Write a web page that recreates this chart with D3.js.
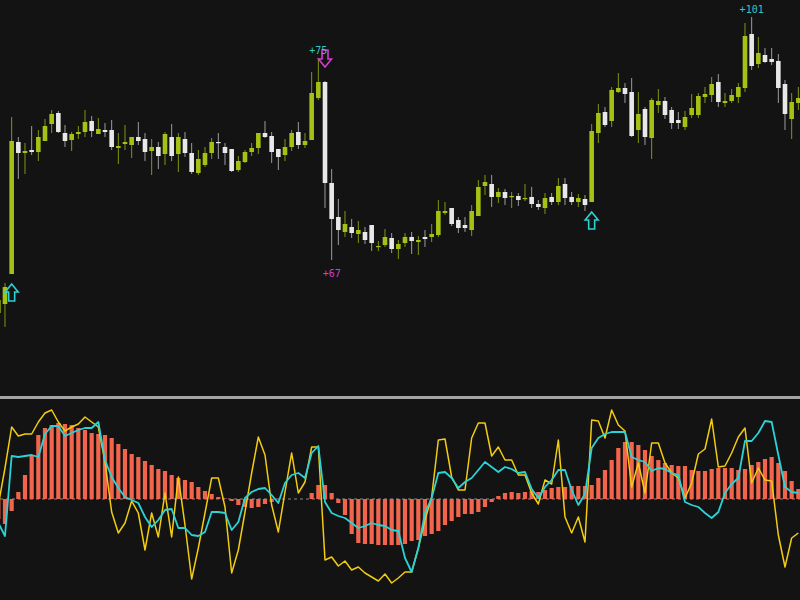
<!DOCTYPE html>
<html><head><meta charset="utf-8">
<script src="https://cdn.jsdelivr.net/npm/d3@7"></script>
<style>html,body{margin:0;padding:0;background:#131313;}svg{display:block;}</style>
</head><body>
<svg id="chart" width="800" height="600"></svg>
<script>
// bar index runs from -1 (partially off-screen) to 119
const firstIndex = -1;
const open = [
 87,96,126,258,247,250,248,259,276,287,
 267,260,266,268,279,266,270,270,252,256,
 255,263,261,249,253,246,263,246,261,247,
 227,235,247,258,253,251,230,238,248,252,
 267,264,251,245,253,268,255,260,302,318,
 217,183,168,173,166,168,175,153,155,162,
 151,157,163,158,163,163,165,187,192,180,
 175,170,184,214,216,203,208,203,204,201,
 203,196,192,203,198,216,203,198,201,198,
 267,288,279,308,312,308,270,291,262,295,
 299,290,280,273,285,285,303,305,318,297,
 299,303,312,366,336,345,341,339,316,281,
 297];
const high = [
 105,117,283,263,257,274,270,281,290,289,
 275,268,274,290,284,282,277,280,267,275,
 263,278,267,261,258,268,276,267,268,257,
 250,253,262,267,257,251,244,250,257,267,
 279,268,251,261,270,278,267,328,342,319,
 231,201,189,181,179,173,175,159,171,167,
 160,167,168,164,170,176,200,198,192,183,
 183,195,220,225,225,212,211,208,207,216,
 213,200,207,207,222,222,208,206,205,276,
 296,293,313,327,317,322,308,293,302,311,
 303,293,288,289,306,307,313,323,326,307,
 311,317,377,383,363,352,352,346,320,307,
 313];
const low = [
 75,73,126,221,226,245,239,259,267,267,
 253,249,261,263,263,266,263,250,236,250,
 242,255,239,225,231,235,239,228,243,226,
 225,233,241,241,235,228,228,237,244,246,
 262,237,230,239,249,251,252,260,300,192,
 140,155,163,162,157,156,149,149,153,147,
 141,153,146,145,153,158,163,185,174,167,
 168,164,184,205,193,197,195,192,194,199,
 192,190,186,195,195,195,195,193,189,198,
 257,273,273,307,297,263,257,255,241,287,
 281,271,271,270,282,282,297,298,293,293,
 297,297,308,330,332,337,335,297,270,261,
 290];
const close = [
 100,113,259,247,249,248,263,274,286,268,
 259,266,268,278,269,271,268,253,254,258,
 263,259,248,253,244,266,244,263,247,228,
 241,247,258,257,247,229,239,248,252,267,
 263,248,243,253,267,255,259,307,318,217,
 181,170,176,167,170,160,157,154,163,151,
 156,163,159,160,161,166,189,189,176,172,
 172,189,213,218,203,208,202,204,200,202,
 196,193,202,198,214,202,198,202,195,269,
 287,275,310,312,306,264,286,263,300,299,
 285,277,277,283,292,304,306,316,298,299,
 305,313,364,334,347,338,338,312,286,298,
 302];
// oscillator panel
const histogram = [
 -20,-25,-12,7,24,43,64,71,74,76,
 75,74,71,69,66,65,64,61,55,50,
 45,42,38,34,30,28,24,21,19,17,
 12,8,5,2,0.5,-2,-6,-8,-9,-8,
 -5,-3,0,0,0,0,0,6,14,14,
 6,-4,-16,-35,-44,-45,-45,-46,-46,-46,
 -46,-45,-42,-41,-37,-35,-32,-26,-22,-18,
 -15,-15,-13,-8,-3,3,6,7,6,7,
 8,7,9,11,12,12,13,13,13,14,
 21,29,39,51,57,57,54,49,43,39,
 36,34,33,33,29,28,28,30,31,31,
 31,29,30,34,37,40,42,36,28,18,
 10];
const fastLine = [
 -6,31,72,63,65,65,77,86,89,77,
 68,72,75,82,77,72,37,-13,-34,-24,
 -2,-14,-51,-14,-38,6,-38,22,-26,-80,
 -49,-14,21,21,-8,-74,-51,-13,26,62,
 44,-6,-33,7,46,6,17,52,52,-61,
 -58,-67,-62,-71,-68,-74,-78,-82,-75,-84,
 -79,-73,-73,-49,-21,2,59,60,22,9,
 9,61,76,76,43,52,39,39,24,24,
 6,-5,19,15,59,-18,-34,-18,-43,79,
 78,61,89,74,68,12,36,6,56,56,
 36,26,21,1,16,45,50,80,32,33,
 46,62,71,16,31,19,18,-36,-68,-39,
 -34];
const slowLine = [
 -24,-37,43,42,43,44,42,65,73,73,
 63,66,69,71,71,77,39,22,11,2,
 -1,-4,-18,-28,-21,-11,-10,-29,-29,-36,
 -37,-33,-13,-13,-14,-31,-23,1,7,10,
 11,4,-4,16,24,26,21,46,53,-3,
 -14,-17,-19,-24,-29,-27,-24,-26,-27,-31,
 -32,-59,-73,-49,-14,1,26,27,21,11,
 17,21,29,37,32,27,32,30,26,27,
 10,1,12,19,29,29,9,-6,5,51,
 61,65,67,67,67,42,39,37,28,31,
 30,26,24,-3,-6,-8,-14,-19,-13,6,
 15,21,58,58,66,78,77,44,12,7,
 6];
// signals and profit labels
const signals = [
  {index: 1, dir: "up"},
  {index: 48, dir: "down"},
  {index: 88, dir: "up"}
];
const profitLabels = [
  {index: 47, text: "+75", at: "high"},
  {index: 49, text: "+67", at: "low"},
  {index: 112, text: "+101", at: "high"}
];

(function () {
const W = 800, H = 600;
const svg = d3.select("#chart");
const bars = open.map((o, i) => ({
  idx: firstIndex + i, o, h: high[i], l: low[i], c: close[i],
  hist: histogram[i], fast: fastLine[i], slow: slowLine[i]
}));

const x = d3.scaleLinear().domain([-1, 119]).range([-1.67, 798.33]);
const yP = d3.scaleLinear().domain([0, 400]).range([400, 0]);
const yI = d3.scaleLinear().domain([-100, 100]).range([599, 399]);

const C = {
  bg: "#131313", bull: "#a6c014", bullWick: "#82960f", bear: "#e8e8e8", bearWick: "#9c9c9c",
  hist: "#f2654c", fast: "#f2cc10", slow: "#2cd2d6", cyanTxt: "#35c6c6", magenta: "#d23cd2"
};

svg.append("rect").attr("width", W).attr("height", H).attr("fill", C.bg);

const defs = svg.append("defs");
defs.append("clipPath").attr("id", "topClip").append("rect").attr("x", 0).attr("y", 0).attr("width", W).attr("height", 396);
defs.append("clipPath").attr("id", "botClip").append("rect").attr("x", 0).attr("y", 399).attr("width", W).attr("height", 201);

// ---------- price panel ----------
const topG = svg.append("g").attr("clip-path", "url(#topClip)");
const bodyW = 4.6;
const cg = topG.selectAll("g.candle").data(bars).join("g").attr("class", "candle");
cg.append("line")
  .attr("x1", d => x(d.idx)).attr("x2", d => x(d.idx))
  .attr("y1", d => yP(d.h)).attr("y2", d => yP(d.l))
  .attr("stroke", d => d.c > d.o ? C.bullWick : C.bearWick).attr("stroke-width", 1);
cg.append("rect")
  .attr("x", d => x(d.idx) - bodyW / 2).attr("width", bodyW)
  .attr("y", d => yP(Math.max(d.o, d.c)))
  .attr("height", d => Math.max(1.2, Math.abs(yP(d.o) - yP(d.c))))
  .attr("fill", d => d.c > d.o ? C.bull : C.bear);

// arrows
const arrowUp = "M0,0 L6.5,8 L3,8 L3,17 L-3,17 L-3,8 L-6.5,8 Z";
signals.forEach(s => {
  const b = bars[s.index - firstIndex];
  if (s.dir === "up") {
    topG.append("path").attr("d", arrowUp)
      .attr("transform", `translate(${x(s.index)},${yP(b.l) + 10})`)
      .attr("fill", "none").attr("stroke", C.slow).attr("stroke-width", 1.6);
  } else {
    topG.append("path").attr("d", arrowUp)
      .attr("transform", `translate(${x(s.index)},${yP(b.h) - 14}) scale(1,-1)`)
      .attr("fill", "none").attr("stroke", C.magenta).attr("stroke-width", 1.6);
  }
});
profitLabels.forEach(p => {
  const b = bars[p.index - firstIndex];
  topG.append("text")
    .attr("x", x(p.index)).attr("y", p.at === "high" ? yP(b.h) - 4 : yP(b.l) + 17)
    .attr("text-anchor", "middle")
    .attr("font-family", "DejaVu Sans Mono, monospace").attr("font-size", 10)
    .attr("fill", p.at === "high" ? C.cyanTxt : C.magenta)
    .text(p.text);
});

// divider
svg.append("rect").attr("x", 0).attr("y", 396).attr("width", W).attr("height", 3).attr("fill", "#a4a4a4");

// ---------- oscillator panel ----------
const botG = svg.append("g").attr("clip-path", "url(#botClip)");
botG.append("line").attr("x1", 0).attr("x2", W).attr("y1", yI(0)).attr("y2", yI(0))
  .attr("stroke", "#8a8a8a").attr("stroke-width", 1).attr("stroke-dasharray", "3,3");
const histW = 4.2;
botG.selectAll("rect.hist").data(bars).join("rect").attr("class", "hist")
  .attr("x", d => x(d.idx) - histW / 2).attr("width", histW)
  .attr("y", d => yI(Math.max(0, d.hist)))
  .attr("height", d => Math.abs(yI(d.hist) - yI(0)))
  .attr("fill", C.hist);
botG.append("path").datum(bars)
  .attr("d", d3.line().x(d => x(d.idx)).y(d => yI(d.fast)))
  .attr("fill", "none").attr("stroke", C.fast).attr("stroke-width", 1.5).attr("stroke-linejoin", "round");
botG.append("path").datum(bars)
  .attr("d", d3.line().x(d => x(d.idx)).y(d => yI(d.slow)))
  .attr("fill", "none").attr("stroke", C.slow).attr("stroke-width", 1.8).attr("stroke-linejoin", "round");
})();
</script>
</body></html>
